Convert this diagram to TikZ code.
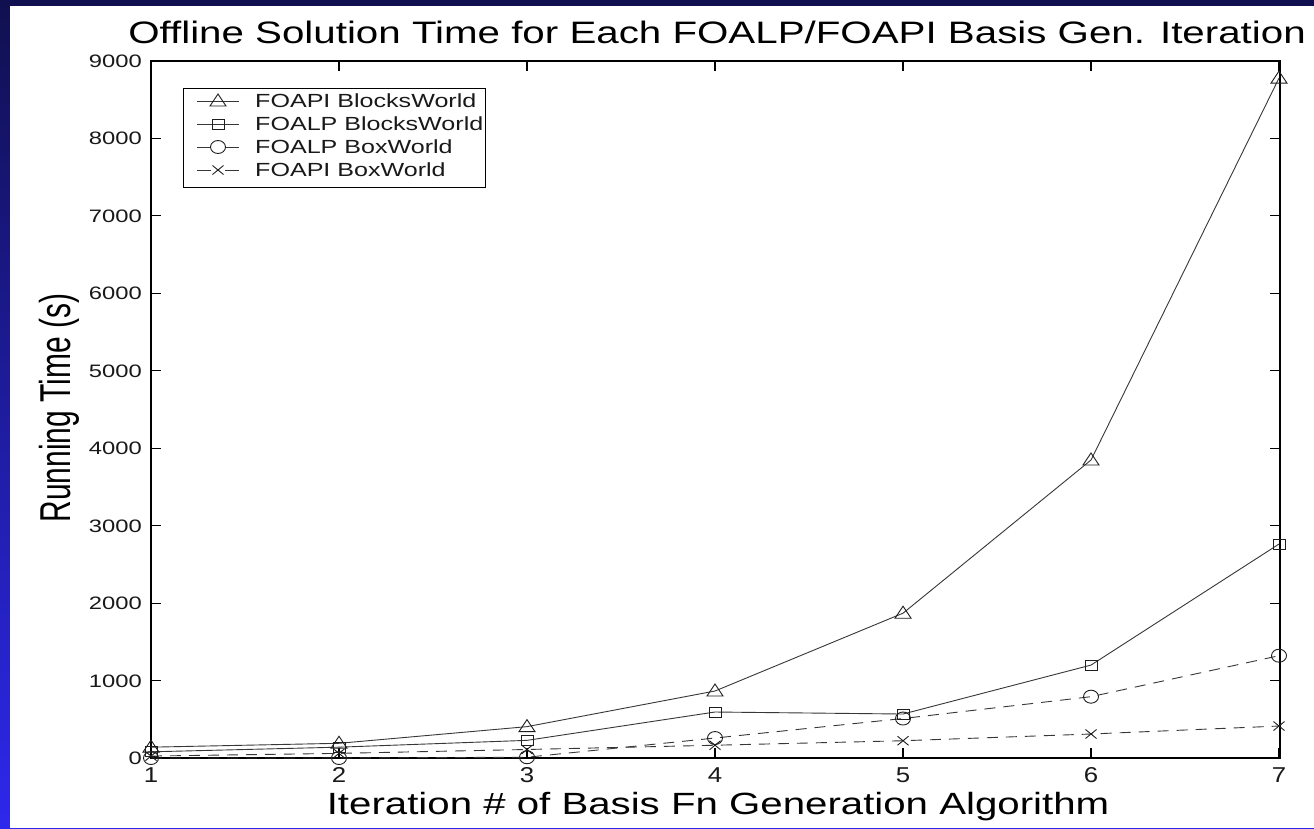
\documentclass[tikz,border=0pt]{standalone}
\usepackage{fontspec}
\setmainfont{Liberation Sans}
\usepackage{graphicx}
\definecolor{navy}{RGB}{16,16,80}
\definecolor{midblue}{RGB}{34,34,176}
\definecolor{brightblue}{RGB}{45,40,236}
\definecolor{ln}{RGB}{55,55,55}
\definecolor{mkc}{RGB}{30,30,30}
\definecolor{tk}{RGB}{25,25,25}
\begin{document}
\begin{tikzpicture}[x=1pt,y=-1pt,
  axisline/.style={line width=1.3pt,black},
  tickline/.style={line width=1.1pt,black},
  ser/.style={line width=0.9pt,ln,line join=round},
  serdash/.style={ser,dash pattern=on 11pt off 8pt},
  mk/.style={line width=0.9pt,mkc},
  ylab/.style={anchor=base east,inner sep=0pt,text=tk,font=\fontsize{18}{18}\selectfont},
  xlab/.style={anchor=base,inner sep=0pt,text=tk,font=\fontsize{21.5}{21.5}\selectfont},
  legtxt/.style={anchor=base west,inner sep=0pt,text=tk,font=\fontsize{19}{19}\selectfont},
  tri/.pic={\draw[mk] (-8,5) -- (8,5) -- (0,-7) -- cycle;},
  sqr/.pic={\draw[mk] (-6,-5) rectangle (6,5);},
  cir/.pic={\draw[mk] (0,0) ellipse [x radius=7.5, y radius=6.5];},
  crs/.pic={\draw[mk] (-5.5,-4.5) -- (5.5,4.5) (-5.5,4.5) -- (5.5,-4.5);}
]
\useasboundingbox (0,0) rectangle (1314,828);
% background
\shade[top color=navy, middle color=midblue, bottom color=brightblue] (0,0) rectangle (1314,828);
\fill[white] (10,6) rectangle (1314,828);

% title and axis labels
\node[anchor=base,inner sep=0pt,font=\fontsize{31}{31}\selectfont] (title) at (717,43) {\scalebox{1.3}[1]{Offline Solution Time for Each FOALP/FOAPI Basis Gen. Iteration}};
\node[anchor=base,inner sep=0pt,font=\fontsize{30.7}{30.7}\selectfont] (xlabel) at (718,814) {\scalebox{1.31}[1]{Iteration \# of Basis Fn Generation Algorithm}};
\node[anchor=base,inner sep=0pt,rotate=90,font=\fontsize{30}{30}\selectfont] (ylabel) at (70,408) {\scalebox{1}[1.44]{Running Time (s)}};

% axes box
\draw[axisline] (151,61) rectangle (1280,758);
\foreach \k in {0,...,6} {
  \draw[tickline] ({151+188*\k},758) -- ({151+188*\k},748);
  \draw[tickline] ({151+188*\k},61) -- ({151+188*\k},71);
  \pgfmathtruncatemacro{\lbl}{\k+1}
  \node[xlab] (xt\lbl) at ({151+188*\k},782) {\scalebox{1.2}[1]{\lbl}};
}
\foreach \k in {0,...,9} {
  \draw[tickline] (151,{758-77.44*\k}) -- (161,{758-77.44*\k});
  \draw[tickline] (1280,{758-77.44*\k}) -- (1270,{758-77.44*\k});
  \pgfmathtruncatemacro{\val}{1000*\k}
  \node[ylab] (yt\k) at (142,{758-77.44*\k+6.5}) {\scalebox{1.32}[1]{\val}};
}

% data points
\begin{scope}[shift={(151,758)},x=188pt,y=0.07744pt]
  \foreach \v [count=\i from 0] in {140,190,405,865,1870,3848,8780} \coordinate (a\i) at (\i,\v);
  \foreach \v [count=\i from 0] in {80,140,228,594,568,1200,2763} \coordinate (b\i) at (\i,\v);
  \foreach \v [count=\i from 0] in {0,0,10,258,510,792,1321} \coordinate (c\i) at (\i,\v);
  \foreach \v [count=\i from 0] in {25,60,110,165,223,310,413} \coordinate (d\i) at (\i,\v);
\end{scope}

\draw[serdash] (c0) -- (c1) -- (c2) -- (c3) -- (c4) -- (c5) -- (c6);
\draw[serdash] (d0) -- (d1) -- (d2) -- (d3) -- (d4) -- (d5) -- (d6);
\draw[ser] (b0) -- (b1) -- (b2) -- (b3) -- (b4) -- (b5) -- (b6);
\draw[ser] (a0) -- (a1) -- (a2) -- (a3) -- (a4) -- (a5) -- (a6);
\foreach \i in {0,...,6} {
  \pic at (a\i) {tri};
  \pic at (b\i) {sqr};
  \pic at (c\i) {cir};
  \pic at (d\i) {crs};
}

% legend
\draw[line width=0.9pt,black,fill=white] (183,88) rectangle (485,187);
\coordinate (la) at (218,101);
\coordinate (lb) at (218,124);
\coordinate (lc) at (218,147);
\coordinate (ld) at (218,170);
\draw[ser] (197,101) -- (239,101);
\pic at (la) {tri};
\draw[ser] (197,124) -- (239,124);
\pic at (lb) {sqr};
\draw[ser] (197,147) -- (211,147) (225,147) -- (239,147);
\pic at (lc) {cir};
\draw[ser] (197,170) -- (211,170) (225,170) -- (239,170);
\pic at (ld) {crs};
\node[legtxt] (lta) at (255,107.8) {\scalebox{1.32}[1]{FOAPI BlocksWorld}};
\node[legtxt] (ltb) at (255,130.8) {\scalebox{1.32}[1]{FOALP BlocksWorld}};
\node[legtxt] (ltc) at (255,153.8) {\scalebox{1.32}[1]{FOALP BoxWorld}};
\node[legtxt] (ltd) at (255,176.8) {\scalebox{1.32}[1]{FOAPI BoxWorld}};
\end{tikzpicture}
\end{document}
